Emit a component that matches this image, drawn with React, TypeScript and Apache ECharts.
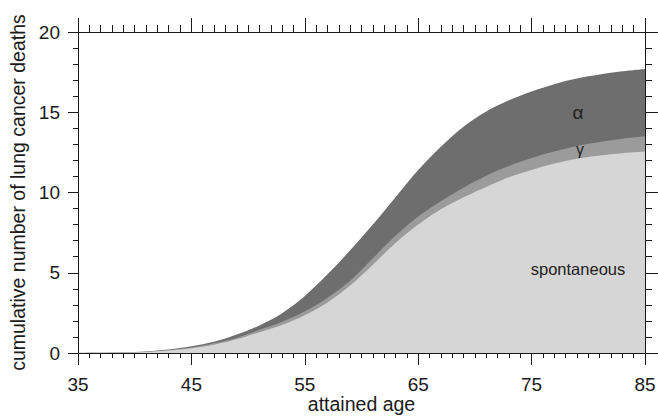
import React, { useEffect, useRef } from "react";
import * as echarts from "echarts";

const ages = [35, 37, 39, 41, 43, 45, 47, 49, 51, 53, 55, 57, 59, 61, 63, 65, 67, 69, 71, 73, 75, 77, 79, 81, 83, 85];
// upper edge of the alpha band (total cumulative deaths)
const totalDeaths = [0, 0.01, 0.04, 0.1, 0.22, 0.42, 0.7, 1.15, 1.72, 2.48, 3.55, 4.9, 6.4, 8.0, 9.7, 11.4, 12.85, 14.1, 15.05, 15.75, 16.3, 16.75, 17.1, 17.35, 17.55, 17.7];
// upper edge of the gamma band (spontaneous + gamma)
const gammaTop = [0, 0.008, 0.035, 0.085, 0.19, 0.35, 0.6, 0.95, 1.45, 1.95, 2.6, 3.45, 4.5, 5.9, 7.3, 8.5, 9.45, 10.3, 11.05, 11.65, 12.15, 12.55, 12.9, 13.15, 13.35, 13.5];
// spontaneous deaths
const spontaneous = [0, 0.005, 0.03, 0.07, 0.16, 0.3, 0.52, 0.85, 1.3, 1.75, 2.35, 3.15, 4.2, 5.5, 6.85, 8.0, 8.95, 9.7, 10.35, 10.95, 11.4, 11.8, 12.1, 12.3, 12.45, 12.55];

const xMajorTicks = [35, 45, 55, 65, 75, 85];
const xMin = 35;
const xMax = 85;
const yMin = 0;
const yMax = 20;
const yInterval = 5;

const FONT = "'Liberation Sans', Arial, Helvetica, sans-serif";
const INK = "#1a1a1a";

export default function App() {
  const ref = useRef<HTMLDivElement>(null);

  useEffect(() => {
    if (!ref.current) return;
    const chart = echarts.init(ref.current, undefined, { renderer: "svg" });
    const xMinorTicks: number[] = [];
    for (let a = xMin; a <= xMax; a++) xMinorTicks.push(a);

    const toPts = (vals: number[]) => ages.map((a, i) => [a, vals[i]]);
    const areaSeries = (name: string, vals: number[], color: string) => ({
      name,
      type: "line",
      xAxisIndex: 0,
      yAxisIndex: 0,
      data: toPts(vals),
      smooth: 0.35,
      showSymbol: false,
      symbol: "none",
      lineStyle: { width: 0 },
      areaStyle: { color, opacity: 1 },
      itemStyle: { color },
      silent: true,
    });

    const lineStyle = { color: INK, width: 1 };
    const baseX = {
      type: "value",
      min: xMin,
      max: xMax,
      splitLine: { show: false },
      axisLine: { show: true, onZero: false, lineStyle },
    };
    const baseY = {
      type: "value",
      min: yMin,
      max: yMax,
      interval: yInterval,
      splitLine: { show: false },
      axisLine: { show: true, onZero: false, lineStyle },
    };

    chart.setOption({
      animation: false,
      backgroundColor: "#ffffff",
      grid: { left: 78, right: 13, top: 32, bottom: 65, containLabel: false, outerBoundsMode: "none" },
      xAxis: [
        {
          ...baseX,
          position: "bottom",
          name: "attained age",
          nameLocation: "middle",
          nameGap: 41,
          nameMoveOverlap: false,
          nameTextStyle: { fontFamily: FONT, fontSize: 19.5, color: INK, lineHeight: 20 },
          axisTick: { show: true, inside: false, length: 12, customValues: xMajorTicks, lineStyle },
          axisLabel: { show: true, customValues: xMajorTicks, margin: 22, fontFamily: FONT, fontSize: 19, color: INK },
        },
        {
          ...baseX,
          position: "bottom",
          axisTick: { show: true, inside: false, length: 5, customValues: xMinorTicks, lineStyle },
          axisLabel: { show: false },
        },
        {
          ...baseX,
          position: "top",
          axisTick: { show: true, inside: false, length: 14, customValues: xMajorTicks, lineStyle },
          axisLabel: { show: false },
        },
        {
          ...baseX,
          position: "top",
          axisTick: { show: true, inside: false, length: 7, customValues: xMinorTicks, lineStyle },
          axisLabel: { show: false },
        },
      ],
      yAxis: [
        {
          ...baseY,
          position: "left",
          name: "cumulative number of lung cancer deaths",
          nameLocation: "middle",
          nameGap: 50,
          nameRotate: 90,
          nameMoveOverlap: false,
          nameTextStyle: { fontFamily: FONT, fontSize: 19.5, color: INK },
          axisTick: { show: true, inside: false, length: 10, lineStyle },
          minorTick: { show: true, splitNumber: 5, length: 5, lineStyle },
          axisLabel: { show: true, margin: 18, fontFamily: FONT, fontSize: 19, color: INK },
        },
        {
          ...baseY,
          position: "right",
          axisTick: { show: true, inside: false, length: 13, lineStyle },
          minorTick: { show: true, splitNumber: 5, length: 7, lineStyle },
          axisLabel: { show: false },
        },
      ],
      series: [
        areaSeries("alpha", totalDeaths, "#6e6e6e"),
        areaSeries("gamma", gammaTop, "#9b9b9b"),
        areaSeries("spontaneous", spontaneous, "#d6d6d6"),
      ],
      graphic: [
        {
          type: "text", z: 100, x: 578, y: 112,
          style: { text: "α", fontFamily: FONT, fontSize: 19, fill: "#222", align: "center", verticalAlign: "middle" },
        },
        {
          type: "text", z: 100, x: 580, y: 149,
          style: { text: "γ", fontFamily: FONT, fontSize: 16, fill: "#222", align: "center", verticalAlign: "middle" },
        },
        {
          type: "text", z: 100, x: 578, y: 269,
          style: { text: "spontaneous", fontFamily: FONT, fontSize: 16.5, fill: "#222", align: "center", verticalAlign: "middle" },
        },
      ],
    });

    return () => chart.dispose();
  }, []);

  return (
    <div
      ref={ref}
      style={{ position: "fixed", left: 0, top: 0, width: 658, height: 418, background: "#fff" }}
    />
  );
}
